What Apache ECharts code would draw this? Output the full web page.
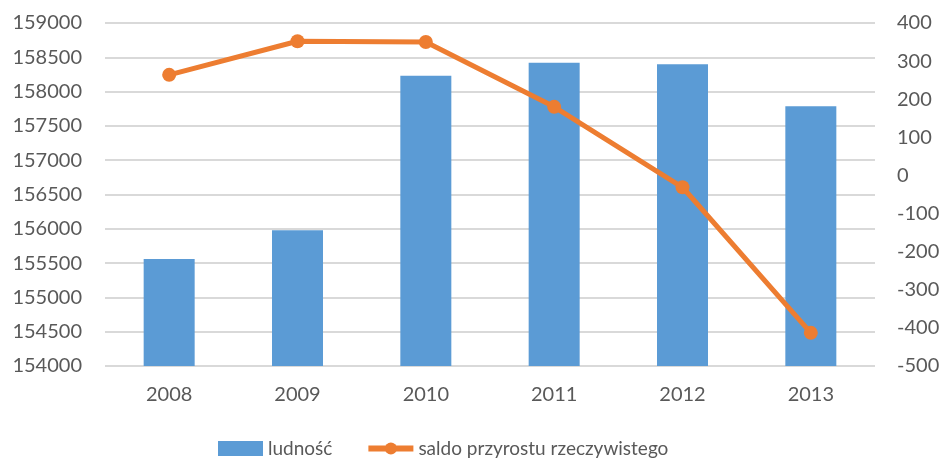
<!DOCTYPE html>
<html>
<head>
<meta charset="utf-8">
<script src="https://cdn.jsdelivr.net/npm/echarts@6/dist/echarts.min.js"></script>
<style>
  html, body { margin: 0; padding: 0; background: #fff; }
  #chart { width: 943px; height: 460px; }
</style>
</head>
<body>
<div id="chart"></div>
<script>
// dane
const years = ["2008", "2009", "2010", "2011", "2012", "2013"];
const ludnosc = [155560, 155980, 158230, 158420, 158400, 157785];
const saldo = [264, 352, 350, 180, -31, -413];

const textColor = "#595959";
const font = "Lato";

let mychart = echarts.init(document.getElementById("chart"));
mychart.setOption({
  animation: false,
  grid: {
    left: 105,
    right: 68,
    top: 23,
    bottom: 94,
  },
  legend: {
    left: 213,
    top: 434,
    itemGap: 33,
    itemWidth: 45,
    itemHeight: 15,
    lineStyle: { width: 6 },
    textStyle: {
      color: textColor,
      fontFamily: font,
      fontSize: 19,
    },
    data: [
      { name: "ludność", icon: "rect" },
      { name: "saldo przyrostu rzeczywistego" },
    ],
  },
  xAxis: {
    type: "category",
    data: years,
    axisLine: { show: false },
    axisTick: { show: false },
    axisLabel: {
      color: textColor,
      fontFamily: font,
      fontSize: 20,
      margin: 19,
    },
  },
  yAxis: [
    {
      type: "value",
      min: 154000,
      max: 159000,
      interval: 500,
      axisLine: { show: false },
      axisTick: { show: false },
      axisLabel: {
        color: textColor,
        fontFamily: font,
        fontSize: 20,
        margin: 23,
        formatter: (v) => String(v),
      },
      splitLine: {
        lineStyle: { color: "#d9d9d9", width: 2 },
      },
    },
    {
      type: "value",
      min: -500,
      max: 400,
      interval: 100,
      axisLine: { show: false },
      axisTick: { show: false },
      axisLabel: {
        color: textColor,
        fontFamily: font,
        fontSize: 20,
        margin: 22,
      },
      splitLine: { show: false },
    },
  ],
  series: [
    {
      name: "ludność",
      type: "bar",
      barWidth: 51,
      data: ludnosc,
      itemStyle: { color: "#5b9bd5" },
    },
    {
      name: "saldo przyrostu rzeczywistego",
      type: "line",
      yAxisIndex: 1,
      data: saldo,
      symbol: "circle",
      symbolSize: 14,
      lineStyle: { color: "#ed7d31", width: 5 },
      itemStyle: { color: "#ed7d31" },
    },
  ],
});
</script>
</body>
</html>
